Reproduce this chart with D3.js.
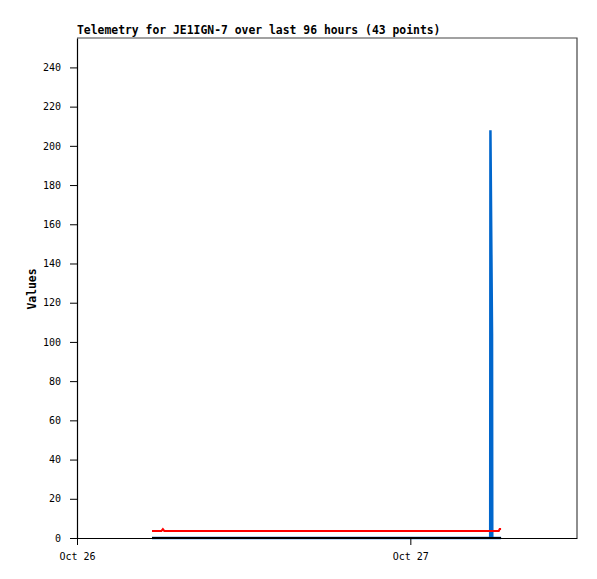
<!DOCTYPE html>
<html>
<head>
<meta charset="utf-8">
<script src="https://cdn.jsdelivr.net/npm/d3@7"></script>
<style>
  html, body { margin: 0; padding: 0; background: #fff; }
  svg { display: block; }
  .tick text { font-family: "DejaVu Sans Mono", "Liberation Mono", monospace; font-size: 10px; fill: #000; }
</style>
</head>
<body>
<svg id="chart" width="597" height="579"></svg>
<script>
// ---- data ----
const times = [
  "2023-10-26T05:24", "2023-10-26T06:05", "2023-10-26T06:11", "2023-10-26T06:17",
  "2023-10-26T07:00", "2023-10-26T07:45", "2023-10-26T08:30", "2023-10-26T09:15",
  "2023-10-26T10:00", "2023-10-26T10:45", "2023-10-26T11:30", "2023-10-26T12:15",
  "2023-10-26T13:00", "2023-10-26T13:45", "2023-10-26T14:30", "2023-10-26T15:15",
  "2023-10-26T16:00", "2023-10-26T16:45", "2023-10-26T17:30", "2023-10-26T18:15",
  "2023-10-26T19:00", "2023-10-26T19:45", "2023-10-26T20:30", "2023-10-26T21:15",
  "2023-10-26T22:00", "2023-10-26T22:45", "2023-10-26T23:30", "2023-10-27T00:15",
  "2023-10-27T01:00", "2023-10-27T01:45", "2023-10-27T02:30", "2023-10-27T03:15",
  "2023-10-27T04:00", "2023-10-27T04:45", "2023-10-27T05:30", "2023-10-27T05:45",
  "2023-10-27T05:46", "2023-10-27T05:53", "2023-10-27T05:54", "2023-10-27T06:10",
  "2023-10-27T06:22", "2023-10-27T06:26", "2023-10-27T06:32"
];
const blueValues = [
  0, 0, 0, 0, 0, 0, 0, 0, 0, 0, 0, 0, 0, 0, 0, 0, 0, 0, 0, 0, 0, 0,
  0, 0, 0, 0, 0, 0, 0, 0, 0, 0, 0, 0, 0, 0, 208, 104, 0, 0, 0, 0, 0
];
const redValues = [
  3.6, 3.6, 4.5, 3.6, 3.6, 3.6, 3.6, 3.6, 3.6, 3.6, 3.6, 3.6, 3.6, 3.6, 3.6,
  3.6, 3.6, 3.6, 3.6, 3.6, 3.6, 3.6, 3.6, 3.6, 3.6, 3.6, 3.6, 3.6, 3.6, 3.6,
  3.6, 3.6, 3.6, 3.6, 3.6, 3.6, 3.6, 3.6, 3.6, 3.6, 3.6, 4.6, 4.6
];
const blackValues = [
  0, 0, 0, 0, 0, 0, 0, 0, 0, 0, 0, 0, 0, 0, 0, 0, 0, 0, 0, 0, 0, 0,
  0, 0, 0, 0, 0, 0, 0, 0, 0, 0, 0, 0, 0, 0, 0, 0, 0, 0, 0, 0, 0
];
const xDomain = ["2023-10-26T00:00", "2023-10-27T12:00"];
const xTickValues = ["2023-10-26T00:00", "2023-10-27T00:00"];
const yMax = 255;
const yTickValues = [0, 20, 40, 60, 80, 100, 120, 140, 160, 180, 200, 220, 240];
const titleText = "Telemetry for JE1IGN-7 over last 96 hours (43 points)";
const yLabelText = "Values";

// ---- layout ----
const mLeft = 77, mRight = 577, mTop = 38, mBottom = 538;
const parse = d3.isoParse;
const svg = d3.select("#chart");

const x = d3.scaleTime().domain(xDomain.map(parse)).range([mLeft, mRight]);
const y = d3.scaleLinear().domain([0, yMax]).range([mBottom, mTop]);

// frame (top/right)
svg.append("path")
  .attr("d", `M${mLeft},${mTop}H${mRight}V${mBottom}`)
  .attr("fill", "none").attr("stroke", "#444").attr("stroke-width", 1.2);

// series
const series = [
  { vals: blueValues, color: "#0066cc", w: 2.5 },
  { vals: redValues, color: "#ff0000", w: 2 },
  { vals: blackValues, color: "#000000", w: 2 }
];
series.forEach(s => {
  const pts = times.map((t, i) => [parse(t), s.vals[i]]);
  svg.append("path")
    .datum(pts)
    .attr("fill", "none")
    .attr("stroke", s.color)
    .attr("stroke-width", s.w)
    .attr("stroke-linejoin", "miter")
    .attr("d", d3.line().x(d => x(d[0])).y(d => y(d[1])));
});

// axes
const yAxis = svg.append("g")
  .attr("transform", `translate(${mLeft},0)`)
  .call(d3.axisLeft(y).tickValues(yTickValues).tickSize(7).tickSizeOuter(0).tickPadding(9));
const xAxis = svg.append("g")
  .attr("transform", `translate(0,${mBottom})`)
  .call(d3.axisBottom(x).tickValues(xTickValues.map(parse))
    .tickFormat(d3.timeFormat("%b %d")).tickSize(7).tickSizeOuter(0).tickPadding(8));
[yAxis, xAxis].forEach(g => {
  g.selectAll("path.domain").attr("stroke", "#000").attr("stroke-width", 1.2);
  g.selectAll(".tick line").attr("stroke", "#000");
});

// title
svg.append("text")
  .attr("x", mLeft).attr("y", 34)
  .attr("font-family", "'DejaVu Sans Mono', 'Liberation Mono', monospace")
  .attr("font-weight", "bold").attr("font-size", "11.4px")
  .text(titleText);

// y label
svg.append("text")
  .attr("transform", `translate(36,${(mTop + mBottom) / 2 + 1}) rotate(-90)`)
  .attr("text-anchor", "middle")
  .attr("font-family", "'DejaVu Sans Mono', 'Liberation Mono', monospace")
  .attr("font-weight", "bold").attr("font-size", "11.4px")
  .text(yLabelText);
</script>
</body>
</html>
